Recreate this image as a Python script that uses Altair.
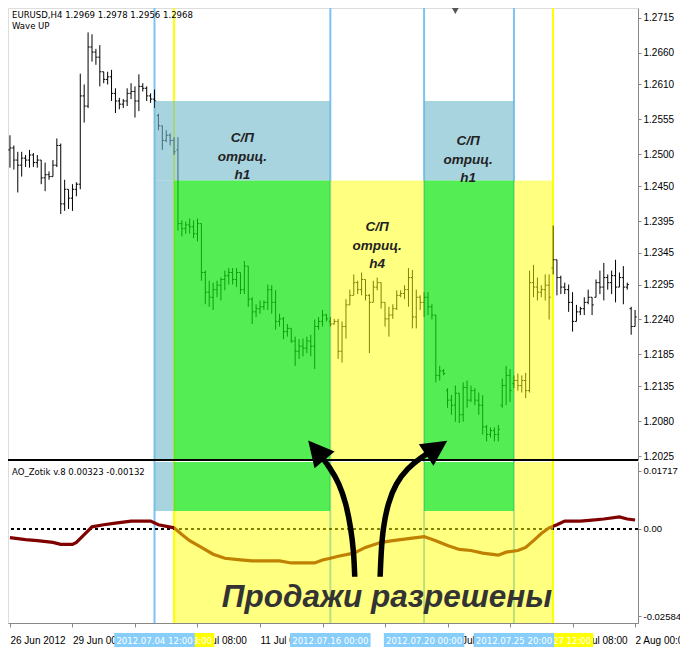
import json
import altair as alt
import pandas as pd

# ---------------- data (EURUSD H4, bar index from 26 Jun 2012 08:00) ----------------
bar_open = [
    1.2507, 1.2510, 1.2491, 1.2483, 1.2494, 1.2491, 1.2499, 1.2487, 1.2491, 1.2463,
    1.2468, 1.2465, 1.2483, 1.2514, 1.2422, 1.2445, 1.2431, 1.2445, 1.2453, 1.2592,
    1.2576, 1.2669, 1.2661, 1.2653, 1.2630, 1.2618, 1.2622, 1.2596, 1.2584, 1.2579,
    1.2584, 1.2596, 1.2599, 1.2584, 1.2607, 1.2604, 1.2592, 1.2587, 1.2561, 1.2545,
    1.2522, 1.2530, 1.2522, 1.2507, 1.2391, 1.2383, 1.2389, 1.2386, 1.2375, 1.2391,
    1.2314, 1.2283, 1.2275, 1.2287, 1.2294, 1.2303, 1.2309, 1.2314, 1.2303, 1.2314,
    1.2287, 1.2324, 1.2272, 1.2252, 1.2257, 1.2260, 1.2267, 1.2287, 1.2267, 1.2237,
    1.2241, 1.2221, 1.2226, 1.2206, 1.2190, 1.2198, 1.2195, 1.2206, 1.2198, 1.2229,
    1.2237, 1.2247, 1.2237, 1.2233, 1.2237, 1.2190, 1.2229, 1.2263, 1.2278, 1.2298,
    1.2287, 1.2303, 1.2278, 1.2267, 1.2291, 1.2298, 1.2267, 1.2241, 1.2247, 1.2257,
    1.2278, 1.2281, 1.2287, 1.2306, 1.2244, 1.2275, 1.2267, 1.2275, 1.2260, 1.2247,
    1.2152, 1.2159, 1.2128, 1.2113, 1.2105, 1.2124, 1.2090, 1.2133, 1.2113, 1.2128,
    1.2113, 1.2105, 1.2071, 1.2059, 1.2065, 1.2059, 1.2105, 1.2136, 1.2152, 1.2139,
    1.2144, 1.2136, 1.2144, 1.2128, 1.2298, 1.2291, 1.2283, 1.2287, 1.2294, 1.2321,
    1.2334, 1.2306, 1.2291, 1.2287, 1.2267, 1.2237, 1.2252, 1.2257, 1.2267, 1.2275,
    1.2275, 1.2298, 1.2291, 1.2306, 1.2298, 1.2309, 1.2291, 1.2306, 1.2291, 1.2257,
    1.2229,
]
bar_high = [
    1.2530, 1.2514, 1.2504, 1.2504, 1.2499, 1.2507, 1.2502, 1.2499, 1.2491, 1.2487,
    1.2473, 1.2491, 1.2525, 1.2517, 1.2460, 1.2445, 1.2453, 1.2456, 1.2627, 1.2610,
    1.2692, 1.2689, 1.2666, 1.2672, 1.2630, 1.2630, 1.2633, 1.2604, 1.2589, 1.2587,
    1.2604, 1.2612, 1.2607, 1.2626, 1.2612, 1.2607, 1.2596, 1.2602, 1.2564, 1.2545,
    1.2538, 1.2533, 1.2527, 1.2527, 1.2396, 1.2394, 1.2399, 1.2396, 1.2399, 1.2391,
    1.2317, 1.2301, 1.2298, 1.2301, 1.2306, 1.2317, 1.2321, 1.2321, 1.2321, 1.2314,
    1.2332, 1.2324, 1.2275, 1.2264, 1.2270, 1.2270, 1.2295, 1.2294, 1.2286, 1.2249,
    1.2244, 1.2233, 1.2226, 1.2213, 1.2209, 1.2210, 1.2213, 1.2216, 1.2240, 1.2244,
    1.2255, 1.2249, 1.2244, 1.2241, 1.2241, 1.2237, 1.2272, 1.2287, 1.2311, 1.2301,
    1.2314, 1.2303, 1.2280, 1.2301, 1.2306, 1.2298, 1.2267, 1.2260, 1.2264, 1.2286,
    1.2286, 1.2294, 1.2321, 1.2318, 1.2287, 1.2278, 1.2283, 1.2283, 1.2264, 1.2247,
    1.2167, 1.2162, 1.2132, 1.2121, 1.2136, 1.2124, 1.2141, 1.2144, 1.2136, 1.2132,
    1.2125, 1.2121, 1.2074, 1.2070, 1.2070, 1.2074, 1.2147, 1.2167, 1.2162, 1.2152,
    1.2155, 1.2152, 1.2156, 1.2317, 1.2326, 1.2306, 1.2294, 1.2311, 1.2311, 1.2388,
    1.2334, 1.2309, 1.2298, 1.2295, 1.2283, 1.2263, 1.2260, 1.2275, 1.2287, 1.2275,
    1.2303, 1.2317, 1.2329, 1.2311, 1.2317, 1.2334, 1.2314, 1.2324, 1.2298, 1.2260,
    1.2255,
]
bar_low = [
    1.2479, 1.2476, 1.2440, 1.2465, 1.2480, 1.2479, 1.2480, 1.2479, 1.2453, 1.2442,
    1.2460, 1.2465, 1.2480, 1.2406, 1.2411, 1.2414, 1.2411, 1.2434, 1.2445, 1.2550,
    1.2573, 1.2646, 1.2641, 1.2607, 1.2612, 1.2610, 1.2584, 1.2565, 1.2571, 1.2573,
    1.2576, 1.2587, 1.2558, 1.2568, 1.2599, 1.2584, 1.2581, 1.2573, 1.2538, 1.2507,
    1.2519, 1.2514, 1.2499, 1.2380, 1.2371, 1.2375, 1.2375, 1.2368, 1.2363, 1.2301,
    1.2264, 1.2260, 1.2255, 1.2275, 1.2270, 1.2286, 1.2295, 1.2295, 1.2291, 1.2280,
    1.2280, 1.2260, 1.2233, 1.2244, 1.2249, 1.2255, 1.2255, 1.2249, 1.2224, 1.2229,
    1.2209, 1.2213, 1.2203, 1.2167, 1.2178, 1.2182, 1.2187, 1.2182, 1.2162, 1.2224,
    1.2229, 1.2237, 1.2229, 1.2232, 1.2178, 1.2172, 1.2210, 1.2263, 1.2278, 1.2280,
    1.2278, 1.2270, 1.2187, 1.2267, 1.2286, 1.2257, 1.2229, 1.2213, 1.2241, 1.2255,
    1.2275, 1.2272, 1.2260, 1.2226, 1.2226, 1.2255, 1.2244, 1.2247, 1.2240, 1.2141,
    1.2144, 1.2152, 1.2101, 1.2090, 1.2079, 1.2077, 1.2079, 1.2101, 1.2110, 1.2105,
    1.2090, 1.2059, 1.2048, 1.2054, 1.2048, 1.2048, 1.2101, 1.2105, 1.2110, 1.2132,
    1.2128, 1.2125, 1.2116, 1.2125, 1.2275, 1.2270, 1.2275, 1.2270, 1.2240, 1.2311,
    1.2278, 1.2280, 1.2280, 1.2252, 1.2221, 1.2237, 1.2247, 1.2247, 1.2264, 1.2247,
    1.2275, 1.2280, 1.2270, 1.2287, 1.2280, 1.2267, 1.2291, 1.2264, 1.2287, 1.2216,
    1.2229,
]
bar_close = [
    1.2510, 1.2491, 1.2483, 1.2494, 1.2491, 1.2499, 1.2487, 1.2491, 1.2463, 1.2468,
    1.2465, 1.2483, 1.2514, 1.2422, 1.2445, 1.2431, 1.2445, 1.2453, 1.2592, 1.2576,
    1.2669, 1.2661, 1.2653, 1.2630, 1.2618, 1.2622, 1.2596, 1.2584, 1.2579, 1.2584,
    1.2596, 1.2599, 1.2584, 1.2607, 1.2604, 1.2592, 1.2587, 1.2584, 1.2545, 1.2522,
    1.2530, 1.2522, 1.2504, 1.2391, 1.2383, 1.2389, 1.2386, 1.2375, 1.2391, 1.2314,
    1.2283, 1.2275, 1.2287, 1.2294, 1.2303, 1.2309, 1.2314, 1.2303, 1.2314, 1.2287,
    1.2324, 1.2272, 1.2252, 1.2257, 1.2260, 1.2267, 1.2287, 1.2267, 1.2237, 1.2241,
    1.2221, 1.2226, 1.2206, 1.2190, 1.2198, 1.2195, 1.2206, 1.2198, 1.2229, 1.2237,
    1.2247, 1.2241, 1.2233, 1.2237, 1.2190, 1.2229, 1.2263, 1.2278, 1.2298, 1.2287,
    1.2303, 1.2278, 1.2267, 1.2291, 1.2298, 1.2267, 1.2241, 1.2247, 1.2257, 1.2278,
    1.2281, 1.2287, 1.2306, 1.2244, 1.2275, 1.2267, 1.2275, 1.2260, 1.2247, 1.2152,
    1.2159, 1.2155, 1.2113, 1.2105, 1.2124, 1.2090, 1.2133, 1.2113, 1.2128, 1.2113,
    1.2105, 1.2071, 1.2059, 1.2065, 1.2059, 1.2067, 1.2136, 1.2152, 1.2128, 1.2144,
    1.2136, 1.2144, 1.2128, 1.2298, 1.2291, 1.2283, 1.2287, 1.2294, 1.2275, 1.2334,
    1.2306, 1.2291, 1.2287, 1.2267, 1.2237, 1.2252, 1.2257, 1.2267, 1.2275, 1.2263,
    1.2298, 1.2291, 1.2306, 1.2298, 1.2309, 1.2291, 1.2306, 1.2291, 1.2295, 1.2229,
    1.2244,
]

# AO_Zotik oscillator readings
ao_bar = [0, 4, 7, 11, 13, 16, 17, 19, 21, 24, 27, 31, 34, 36, 38, 42, 44, 46, 49, 52,
          55, 59, 62, 66, 69, 72, 76, 78, 80, 82, 84, 88, 91, 95, 98, 102, 106, 109, 112, 115,
          118, 121, 125, 127, 130, 132, 134, 136, 138, 140, 142, 146, 149, 152, 156, 158, 160]
ao_val = [-0.0026, -0.0032, -0.0035, -0.0040, -0.0046, -0.0046, -0.0040, -0.0017, 0.0006, 0.0012,
          0.0017, 0.0023, 0.0023, 0.0023, 0.0012, 0.0003, -0.0017, -0.0035, -0.0055, -0.0075,
          -0.0087, -0.0092, -0.0095, -0.0095, -0.0095, -0.0101, -0.0101, -0.0101, -0.0092, -0.0087,
          -0.0081, -0.0072, -0.0055, -0.0040, -0.0035, -0.0029, -0.0023, -0.0035, -0.0049, -0.0061,
          -0.0064, -0.0072, -0.0078, -0.0069, -0.0064, -0.0055, -0.0035, -0.0014, 0.0003, 0.0012,
          0.0023, 0.0023, 0.0026, 0.0029, 0.0035, 0.0029, 0.0026]

# vertical line objects (bar index) and their date labels
blue_lines = [37, 82, 106, 129]
blue_line_labels = ["2012.07.04 12:00", "2012.07.16 00:00", "2012.07.20 00:00", "2012.07.25 20:00"]
yellow_lines = [42, 139]
yellow_line_labels = ["2012.07.05 08:00", "2012.07.27 12:00"]

# rectangle price levels
zone_blue_top = 1.2584
zone_top = 1.2459
ind_zone_bottom = 0.0053

price_ticks = [1.2715, 1.2660, 1.2610, 1.2555, 1.2500, 1.2450, 1.2395, 1.2345,
               1.2295, 1.2240, 1.2185, 1.2135, 1.2080, 1.2025]
ind_ticks = [0.01717, 0.0, -0.02584]
time_tick_bars = [0, 16, 32, 48, 64, 80, 96, 112, 128, 144, 160]
# labels hidden behind the line-date boxes in the terminal are left empty
time_labels = ["26 Jun 2012", "29 Jun 00:00", "", "6 Jul 08:00", "11 Jul 00:00",
               "", "", "23 Jul 00:00", "", "30 Jul 08:00", "2 Aug 00:00"]

zone_text = ["С/П\nотриц.\nh1", "С/П\nотриц.\nh4", "С/П\nотриц.\nh1"]
zone_text_bar = [59.5, 94.0, 117.25]
zone_text_price = [1.2525, 1.2385, 1.2521]

sell_text = "Продажи разрешены"
sell_text_bar = 96.5
sell_text_val = -0.0205

arrow_id = [1] * 7 + [2] * 8
arrow_seq = list(range(7)) + list(range(8))
arrow_bar = [88.25, 88.0, 87.25, 86.0, 84.25, 82.0, 79.0,
             94.75, 95.0, 95.5, 96.75, 98.75, 101.75, 105.25, 108.75]
arrow_price = [1.1835, 1.1874, 1.1912, 1.1951, 1.1982, 1.2006, 1.2030,
               1.1835, 1.1874, 1.1912, 1.1951, 1.1982, 1.2006, 1.2023, 1.2036]
head_bar = [78.6, 109.0]
head_price = [1.2033, 1.2037]
head_angle = [320, 56]

header_text = "EURUSD,H4  1.2969 1.2978 1.2956 1.2968"
sub_text = "Wave UP"
ind_text = "AO_Zotik v.8 0.00323 -0.00132"

# ---------------- styling ----------------
W, H = 630, 615
P_RANGE = [452, 0]
I_RANGE = [615, 454]
P_DOM = [1.20188, 1.27304]
I_DOM = [-0.02786, 0.01977]
UI_FONT = "DejaVu Sans Condensed, Liberation Sans, sans-serif"
BOLD_FONT = "Liberation Sans, Arial, sans-serif"

BLUE_LINE = "#7DC3F2"
YELLOW_LINE = "#FFFF00"
BLUE_FILL, BLUE_OP = "#6EB7CB", 0.6
GREEN_FILL, GREEN_OP = "#0CE50C", 0.7
YELLOW_FILL, YELLOW_OP = "#FFFF01", 0.5

XS = alt.Scale(domain=[-0.5, 160.75], zero=False, nice=False)
PS = alt.Scale(domain=P_DOM, range=P_RANGE, zero=False, nice=False)
IS = alt.Scale(domain=I_DOM, range=I_RANGE, zero=False, nice=False)

x_axis = alt.Axis(values=time_tick_bars,
                  labelExpr=json.dumps(time_labels) + "[round(datum.value / 16)]",
                  title=None, grid=False, tickSize=4, labelPadding=8, labelAlign="left",
                  labelOverlap=False, labelFlush=False, labelBound=False, labelFontSize=10)
p_axis = alt.Axis(orient="right", values=price_ticks, format=".4f", title=None, grid=False,
                  tickSize=3, labelPadding=2, labelFontSize=10)
i_axis = alt.Axis(orient="right", values=ind_ticks, title=None, grid=False, tickSize=3,
                  labelPadding=2, labelFontSize=9.5,
                  labelExpr="datum.value > 0.01 ? '0.01717' : (datum.value < -0.01 ? '-0.02584' : '0.00')")


def X(f):
    return alt.X(f, type="quantitative", scale=XS, axis=x_axis)


def YP(f):
    return alt.Y(f, type="quantitative", scale=PS, axis=p_axis)


def YI(f):
    return alt.Y(f, type="quantitative", scale=IS, axis=i_axis)


bars = pd.DataFrame({"bar": list(range(len(bar_open))), "open": bar_open,
                     "high": bar_high, "low": bar_low, "close": bar_close})
ao = pd.DataFrame({"bar": ao_bar, "val": ao_val})

vlines = pd.DataFrame({"bar": blue_lines + yellow_lines,
                       "color": [BLUE_LINE] * len(blue_lines) + [YELLOW_LINE] * len(yellow_lines)})

b1, b2, b3, b4 = blue_lines
y1, y2 = yellow_lines
price_zones = pd.DataFrame([
    (b1, b2, zone_top, zone_blue_top, BLUE_FILL, BLUE_OP),
    (b1, y1, P_DOM[0], zone_top, BLUE_FILL, BLUE_OP),
    (y1, b2, P_DOM[0], zone_top, GREEN_FILL, GREEN_OP),
    (b2, b3, P_DOM[0], zone_top, YELLOW_FILL, YELLOW_OP),
    (b3, b4, zone_top, zone_blue_top, BLUE_FILL, BLUE_OP),
    (b3, b4, P_DOM[0], zone_top, GREEN_FILL, GREEN_OP),
    (b4, y2, P_DOM[0], zone_top, YELLOW_FILL, YELLOW_OP),
], columns=["x1", "x2", "v1", "v2", "color", "op"])
ind_zones = pd.DataFrame([
    (b1, y1, ind_zone_bottom, I_DOM[1], BLUE_FILL, BLUE_OP),
    (y1, b2, ind_zone_bottom, I_DOM[1], GREEN_FILL, GREEN_OP),
    (y1, b2, I_DOM[0], ind_zone_bottom, YELLOW_FILL, YELLOW_OP),
    (b2, b3, I_DOM[0], I_DOM[1], YELLOW_FILL, YELLOW_OP),
    (b3, b4, ind_zone_bottom, I_DOM[1], GREEN_FILL, GREEN_OP),
    (b3, b4, I_DOM[0], ind_zone_bottom, YELLOW_FILL, YELLOW_OP),
    (b4, y2, I_DOM[0], I_DOM[1], YELLOW_FILL, YELLOW_OP),
], columns=["x1", "x2", "v1", "v2", "color", "op"])

# ---------------- indicator group ----------------
ind_layers = [
    alt.Chart(vlines).mark_rule(strokeWidth=2).encode(
        x=X("bar"), y=alt.value(0), y2=alt.value(H), color=alt.Color("color:N", scale=None)),
    alt.Chart(ao).mark_rule(color="black", strokeWidth=1, strokeDash=[3, 3]).encode(
        y=alt.datum(0, scale=IS, axis=i_axis)),
    alt.Chart(ao).mark_line(color="#800000", strokeWidth=3.2).encode(x=X("bar"), y=YI("val")),
    alt.Chart(ind_zones).mark_rect().encode(
        x=X("x1"), x2="x2", y=YI("v1"), y2="v2",
        color=alt.Color("color:N", scale=None), opacity=alt.Opacity("op:Q", scale=None)),
    alt.Chart(pd.DataFrame({"t": [ind_text]})).mark_text(
        align="left", baseline="middle", font=UI_FONT, fontSize=9.5, color="black").encode(
        x=alt.value(4), y=alt.value(463.5), text="t:N"),
    alt.Chart(pd.DataFrame({"bar": [sell_text_bar], "v": [sell_text_val], "t": [sell_text]})).mark_text(
        align="center", baseline="middle", font=BOLD_FONT, fontSize=31.5, fontWeight="bold",
        fontStyle="italic", color="#333333").encode(x=X("bar"), y=YI("v"), text="t:N"),
]
ind_group = alt.layer(*ind_layers)

# ---------------- price group ----------------
bar_base = alt.Chart(bars)
price_layers = [
    bar_base.mark_rule(color="black", strokeWidth=1).encode(x=X("bar"), y=YP("high"), y2="low"),
    bar_base.transform_calculate(xo="datum.bar - 0.42").mark_rule(color="black", strokeWidth=1).encode(
        x=X("xo"), x2="bar", y=YP("open")),
    bar_base.transform_calculate(xc="datum.bar + 0.42").mark_rule(color="black", strokeWidth=1).encode(
        x=X("bar"), x2="xc", y=YP("close")),
    alt.Chart(price_zones).mark_rect().encode(
        x=X("x1"), x2="x2", y=YP("v1"), y2="v2",
        color=alt.Color("color:N", scale=None), opacity=alt.Opacity("op:Q", scale=None)),
    alt.Chart(pd.DataFrame({"bar": zone_text_bar, "p": zone_text_price, "t": zone_text})).mark_text(
        align="center", baseline="middle", font=BOLD_FONT, fontSize=13.5, fontWeight="bold",
        fontStyle="italic", color="#222222", lineBreak="\n", lineHeight=18.5).encode(
        x=X("bar"), y=YP("p"), text="t:N"),
    # panel separator
    alt.Chart(bars).mark_rule(color="black", strokeWidth=1).encode(y=alt.datum(P_DOM[0], scale=PS, axis=p_axis)),
    alt.Chart(pd.DataFrame({"t": [header_text, sub_text], "yy": [6.5, 18]})).mark_text(
        align="left", baseline="middle", font=UI_FONT, fontSize=9.5, color="black").encode(
        x=alt.value(4), y=alt.Y("yy:Q", scale=None), text="t:N"),
    # chart-shift marker
    alt.Chart(pd.DataFrame({"bar": [114]})).mark_point(
        shape="triangle-down", filled=True, color="#555555", size=45, opacity=1).encode(
        x=X("bar"), y=alt.value(3)),
    # arrows
    alt.Chart(pd.DataFrame({"id": arrow_id, "seq": arrow_seq, "bar": arrow_bar, "p": arrow_price})).mark_line(
        color="black", strokeWidth=5.5, interpolate="basis", strokeCap="butt").encode(
        x=X("bar"), y=YP("p"), detail="id:N", order="seq:Q"),
    alt.Chart(pd.DataFrame({"bar": head_bar, "p": head_price, "a": head_angle})).mark_point(
        shape="M0,-1L0.95,0.85L-0.95,0.85Z", filled=True, color="black", opacity=1, size=760,
        strokeWidth=0).encode(x=X("bar"), y=YP("p"), angle=alt.Angle("a:Q", scale=None)),
]

# date boxes of the vertical lines on the time scale
ybox = pd.DataFrame({"bar": yellow_lines, "t": yellow_line_labels})
bbox = pd.DataFrame({"bar": blue_lines, "t": blue_line_labels})
for df, col in [(ybox, YELLOW_LINE), (bbox, "#87CEFA")]:
    price_layers.append(
        alt.Chart(df).transform_calculate(bx1="datum.bar - 10.3", bx2="datum.bar + 10.3").mark_rect(
            color=col, opacity=1).encode(x=X("bx1"), x2="bx2", y=alt.value(625), y2=alt.value(639)))
    price_layers.append(
        alt.Chart(df).mark_text(align="center", baseline="middle", font=UI_FONT, fontSize=9.5,
                                color="white").encode(x=X("bar"), y=alt.value(632.5), text="t:N"))

price_group = alt.layer(*price_layers)

chart = alt.layer(ind_group, price_group).resolve_scale(y="independent").properties(
    width=W, height=H,
    autosize=alt.AutoSizeParams(type="none"),
    padding={"left": 0, "top": 0, "right": 42, "bottom": 26},
).configure_view(stroke="black", strokeWidth=1).configure_axis(
    labelFont=UI_FONT, labelColor="black", domainColor="black", tickColor="black",
    domainWidth=1, tickWidth=1,
).configure(background="white")

chart.save("out.html", embed_options={"renderer": "svg", "actions": False})
